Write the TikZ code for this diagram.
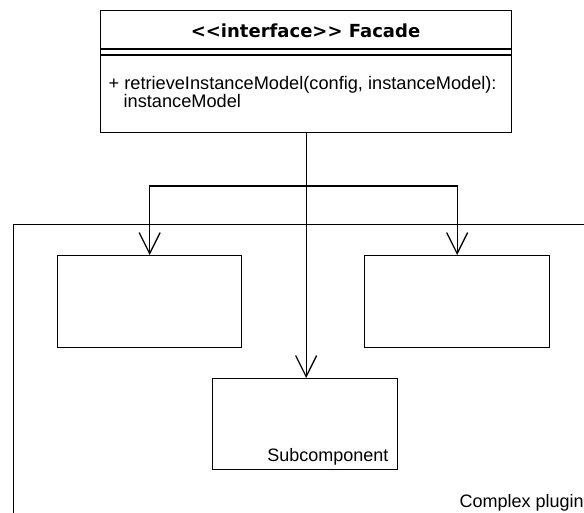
\documentclass[tikz,border=0pt]{standalone}
\usepackage{fontspec}
\setmainfont{Liberation Sans}
\newfontfamily\hdrfont{DejaVu Sans}
\usetikzlibrary{arrows.meta}
\begin{document}
\begin{tikzpicture}[x=1pt,y=-1pt, line width=1.3pt,
  box/.style={draw, rectangle, inner sep=0pt, anchor=north west},
  link/.style={-{Straight Barb[length=21pt,width=21pt]}},
  txt/.style={font=\fontsize{18}{21}\selectfont, inner sep=0pt}]
\useasboundingbox (0,0) rectangle (584,513);
\begin{scope}
\clip (0,0) rectangle (584,513);
% frame of the complex plugin (extends beyond the picture)
\node[box, minimum width=620pt, minimum height=330pt] (plugin) at (13,224) {};
% facade class
\node[box, minimum width=411pt, minimum height=122pt] (facade) at (100,10) {};
\draw (100,49) -- (511,49);
\draw (100,55) -- (511,55);
\node[txt, font=\hdrfont\bfseries\fontsize{18}{21}\selectfont, anchor=base] (hdr) at (305.5,38) {<\kern0pt<interface>\kern0pt> Facade};
\node[txt, font=\fontsize{18.2}{21}\selectfont, anchor=base west] (m1) at (108,90) {+ retrieveInstanceModel(config, instanceModel):};
\node[txt, font=\fontsize{18.2}{21}\selectfont, anchor=base west] (m2) at (123,108) {instanceModel};
% sub boxes
\node[box, minimum width=184pt, minimum height=92pt] (left) at (57,255) {};
\node[box, minimum width=185pt, minimum height=92pt] (right) at (364,255) {};
\node[box, minimum width=185pt, minimum height=91pt] (sub) at (212,378) {};
\node[txt, anchor=base east] (sublabel) at (389,461) {Subcomponent};
\node[txt, anchor=base west] (pluginlabel) at (459,507) {Complex plugin};
% connectors
\coordinate (j) at (305.5,186);
\draw[link] (facade.south) -- (facade.south |- sub.north);
\draw[link] (j) -| (left.north);
\draw[link] (j) -| (right.north);
\end{scope}
\end{tikzpicture}
\end{document}
